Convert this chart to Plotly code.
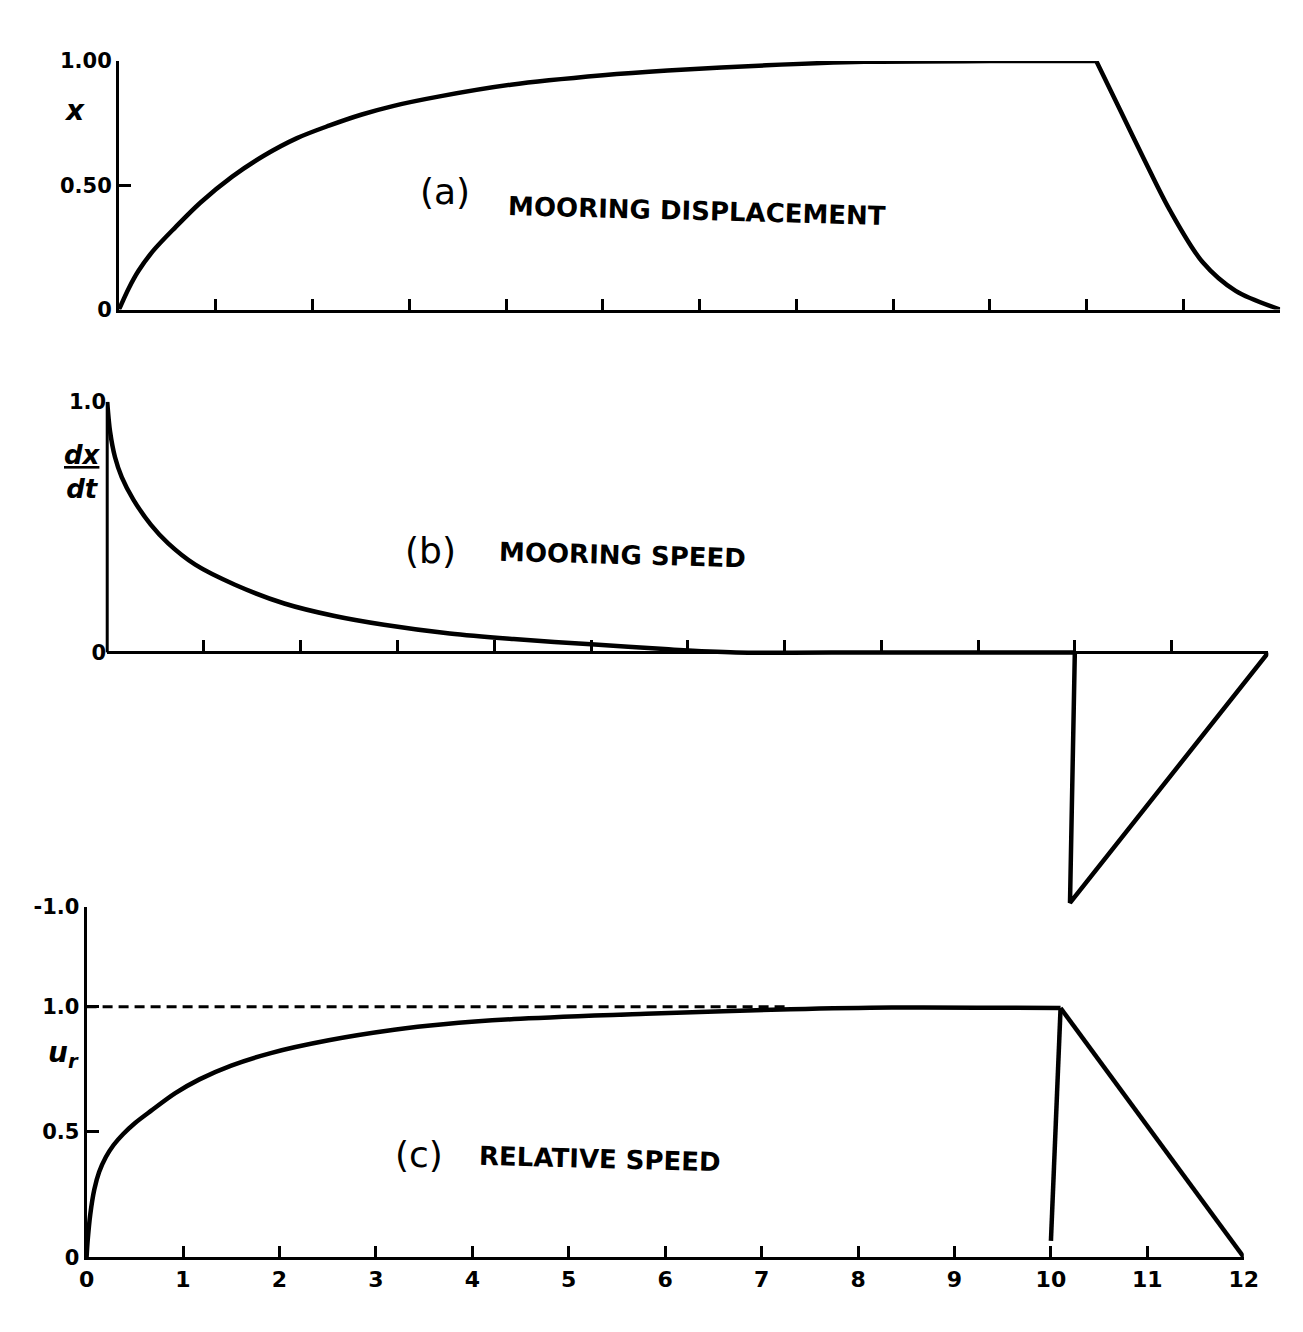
import plotly.graph_objects as go

# ---------------- data ----------------
# (a) mooring displacement x(t)
t_a_rise = [0, 0.1, 0.2, 0.35, 0.58, 0.84, 1.17, 1.5, 1.84, 2.17, 2.51, 2.84,
            3.3, 4.05, 5.0, 5.67, 6.69, 7.7, 9.0, 10.1]
x_a_rise = [0, 0.085, 0.155, 0.235, 0.33, 0.43, 0.535, 0.62, 0.69, 0.74, 0.785, 0.82,
            0.857, 0.905, 0.943, 0.962, 0.983, 0.997, 1.0, 1.0]
t_a_fall = [10.1, 10.35, 10.6, 10.86, 11.2, 11.54, 12.0]
x_a_fall = [1.0, 0.80, 0.60, 0.40, 0.19, 0.075, 0.0]

# (b) mooring speed dx/dt
t_b_decay = [0, 0.03, 0.08, 0.15, 0.27, 0.45, 0.63, 0.91, 1.32, 1.83, 2.35, 2.86,
             3.54, 4.2, 5.0, 5.8, 6.5, 8.0, 10.0]
v_b_decay = [1.0, 0.88, 0.78, 0.70, 0.61, 0.51, 0.435, 0.35, 0.27, 0.195, 0.145, 0.11,
             0.075, 0.053, 0.032, 0.012, 0.0, 0.0, 0.0]
t_b_reverse = [10.0, 9.95, 12.0]
v_b_reverse = [0.0, -1.0, 0.0]

# (c) relative speed u_r
t_c_rise = [0, 0.012, 0.038, 0.08, 0.13, 0.2, 0.28, 0.38, 0.5, 0.67, 0.92, 1.17, 1.5,
            1.91, 2.51, 3.19, 3.7, 4.5, 5.8, 7.3, 8.35, 10.1]
u_c_rise = [0, 0.07, 0.17, 0.27, 0.34, 0.40, 0.448, 0.492, 0.535, 0.585, 0.655, 0.71,
            0.765, 0.815, 0.866, 0.908, 0.93, 0.952, 0.972, 0.99, 0.997, 0.995]
t_c_jump = [10.0, 10.1]
u_c_jump = [0.065, 0.995]
t_c_fall = [10.1, 12.0]
u_c_fall = [0.995, 0.0]
t_c_current = [0, 7.3]
u_c_current = [1.0, 1.0]

# tick labels
t_ticks = list(range(0, 13))
t_tick_text = [str(v) for v in t_ticks]
a_yticks = [0, 0.5, 1.0]
a_ytext = ["0", "0.50", "1.00"]
b_yticks = [0, 1.0]
b_ytext = ["0", "1.0"]
c_yticks = [0, 0.5, 1.0, 1.4]
c_ytext = ["0", "0.5", "1.0", "-1.0"]

# ---------------- figure ----------------
W, H = 1303, 1332
def PX(x):
    return x / W
def PY(y):
    return 1 - y / H

FONT = "DejaVu Sans"
LW = 4.5

fig = go.Figure()

def curve(x, y, xa, ya, shape="spline", dash="solid", width=LW):
    fig.add_trace(go.Scatter(
        x=x, y=y, xaxis=xa, yaxis=ya, mode="lines",
        line=dict(color="black", width=width, shape=shape, dash=dash,
                  smoothing=0.9 if shape == "spline" else None),
        cliponaxis=False, showlegend=False, hoverinfo="skip"))

curve(t_a_rise, x_a_rise, "x", "y")
curve(t_a_fall, x_a_fall, "x", "y")
curve(t_b_decay, v_b_decay, "x2", "y2")
curve(t_b_reverse, v_b_reverse, "x2", "y2", shape="linear")
curve(t_c_rise, u_c_rise, "x3", "y3")
curve(t_c_jump, u_c_jump, "x3", "y3", shape="linear")
curve(t_c_fall, u_c_fall, "x3", "y3", shape="linear")
curve(t_c_current, u_c_current, "x3", "y3", shape="linear", dash="10px,6px", width=3)

TICKFONT = dict(family=FONT, size=21, color="black", weight="bold")
axis_common = dict(showgrid=False, zeroline=False, linecolor="black", linewidth=3,
                   ticks="inside", tickcolor="black", tickwidth=2.5,
                   tickfont=TICKFONT)

b_zero_py = 652
b_axis_px = 101

fig.update_layout(
    width=W, height=H,
    margin=dict(l=0, r=0, t=0, b=0),
    paper_bgcolor="white", plot_bgcolor="white",
    # panel (a)
    xaxis=dict(domain=[PX(113), PX(1295)], range=[0, 12], anchor="y", showline=True,
               tickvals=t_ticks, showticklabels=False, ticklen=11, **axis_common),
    yaxis=dict(domain=[PY(303), PY(50)], range=[0, 1.0], anchor="x", showline=True,
               tickvals=a_yticks, ticktext=a_ytext, ticklen=12, **axis_common),
    # panel (b)
    xaxis2=dict(domain=[PX(b_axis_px), PX(1283)], range=[0, 12], anchor="free",
                position=PY(b_zero_py), showline=True,
                tickvals=t_ticks, showticklabels=False, ticklen=11, **axis_common),
    yaxis2=dict(domain=[PY(920), PY(397)], range=[-1.05, 1.0], anchor="x2",
                showline=False, tickvals=b_yticks, ticktext=b_ytext, ticklen=12,
                **axis_common),
    # panel (c)
    xaxis3=dict(domain=[PX(80), PX(1258)], range=[0, 12], anchor="y3", showline=True,
                tickvals=t_ticks, ticktext=t_tick_text, ticklen=11,
                **{**axis_common,
                   "tickfont": dict(family=FONT, size=22, color="black", weight="bold")}),
    yaxis3=dict(domain=[PY(1268), PY(911)], range=[0, 1.4], anchor="x3", showline=True,
                tickvals=c_yticks, ticktext=c_ytext, ticklen=12, **axis_common),
)

# y-axis line of panel (b), only over its positive part (not clipped in x)
fig.add_shape(type="line", xref="paper", yref="y2",
              x0=PX(b_axis_px), x1=PX(b_axis_px), y0=0, y1=1.0,
              line=dict(color="black", width=3))

def note(text, x, y, size, xanchor="center", angle=0, bold=False):
    fig.add_annotation(text=f"<b>{text}</b>" if bold else text,
                       x=PX(x), y=PY(y), xref="paper", yref="paper",
                       xanchor=xanchor, yanchor="middle", showarrow=False,
                       textangle=angle,
                       font=dict(family=FONT, size=size, color="black"))

note("(a)", 445, 183, 36)
note("MOORING DISPLACEMENT", 507, 203, 26, xanchor="left", angle=1.5, bold=True)
note("(b)", 430, 548, 36)
note("MOORING SPEED", 497, 553, 26, xanchor="left", angle=1.5, bold=True)
note("(c)", 418, 1163, 36)
note("RELATIVE SPEED", 477, 1168, 26, xanchor="left", angle=1.5, bold=True)

note("<i>x</i>", 68, 100, 28, bold=True)
note("<u><i>dx</i></u><br><i>dt</i>", 76, 468, 26, bold=True)
note("<i>u<sub>r</sub></i>", 57, 1062, 28, bold=True)

fig.write_html("out.html")
